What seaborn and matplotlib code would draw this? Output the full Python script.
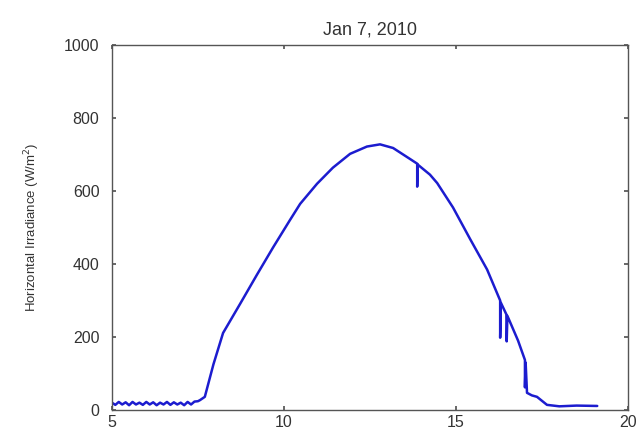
import numpy as np
import pandas as pd
import matplotlib
matplotlib.use("Agg")
import matplotlib.pyplot as plt
import seaborn as sns

sns.set_theme(style="white")
plt.rcParams["font.family"] = ["Liberation Sans", "DejaVu Sans"]

# ---------------------------------------------------------------
# data (hour of day vs irradiance W/m^2)
# ---------------------------------------------------------------
morning_hours = [5.0, 5.1, 5.2, 5.3, 5.4, 5.5, 5.6, 5.7, 5.8, 5.9, 6.0, 6.1,
                 6.2, 6.3, 6.4, 6.5, 6.6, 6.7, 6.8, 6.9, 7.0, 7.1, 7.2, 7.3,
                 7.4, 7.5, 7.56]
morning_vals = [20, 14, 22, 15, 21, 13, 22, 15, 20, 14, 22, 15, 21, 13, 20,
                15, 22, 14, 21, 15, 20, 13, 22, 15, 23, 24, 27]

day_hours = [7.70, 7.95, 8.23, 8.72, 9.21, 9.68, 10.17, 10.47, 10.96, 11.42,
             11.92, 12.41, 12.79, 13.17, 13.66, 13.87, 13.87, 13.88, 14.24,
             14.45, 14.91, 15.41, 15.90, 16.28, 16.28, 16.30, 16.46, 16.47,
             16.49, 16.8, 17.0, 17.0, 17.02, 17.06, 17.2, 17.35, 17.64, 18.0,
             18.5, 19.1]
day_vals = [36, 125, 211, 290, 370, 445, 520, 565, 620, 664, 702, 722, 728,
            718, 688, 675, 612, 673, 645, 622, 555, 468, 385, 300, 198, 294,
            262, 188, 258, 190, 137, 62, 130, 47, 40, 36, 14, 10, 12, 11]

df = pd.DataFrame({
    "hour": morning_hours + day_hours,
    "irradiance": morning_vals + day_vals,
})

fig = plt.figure(figsize=(6.43, 4.38), dpi=100)
ax = fig.add_axes([0.174, 0.064, 0.803, 0.833])

sns.lineplot(data=df, x="hour", y="irradiance", sort=False, estimator=None,
             color="#1c1ccf", linewidth=1.8, ax=ax)

ax.set_xlim(5, 20)
ax.set_ylim(0, 1000)
ax.set_xticks([5, 10, 15, 20])
ax.set_yticks([0, 200, 400, 600, 800, 1000])
ax.set_xlabel("")
ax.set_ylabel("Horizontal Irradiance (W/m$^2$)", fontsize=9.5, color="#333333",
              labelpad=16)
ax.set_title("Jan 7, 2010", fontsize=13, color="#333333", pad=8)

ax.tick_params(direction="in", length=3, top=True, right=True,
               labelsize=11.5, labelcolor="#333333", color="#555555",
               bottom=True, left=True)
ax.tick_params(axis="y", pad=9)
for side in ax.spines.values():
    side.set_color("#555555")
    side.set_linewidth(1.0)

plt.savefig("out.png", dpi=100)
plt.close()
